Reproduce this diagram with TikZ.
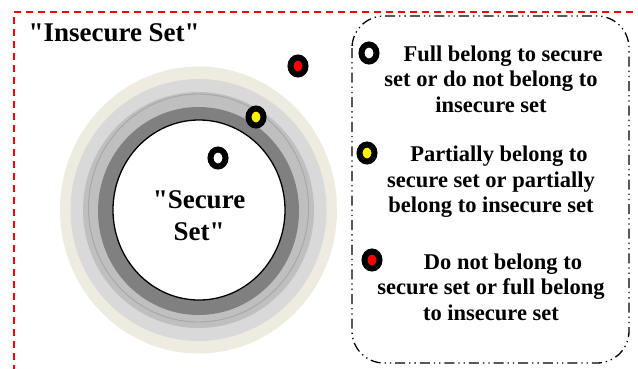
\documentclass[tikz,border=0pt]{standalone}
\usepackage{fontspec}
\setmainfont{Liberation Serif}
\usetikzlibrary{shapes.geometric}
\definecolor{beige}{HTML}{EEECE1}
\definecolor{lgray}{HTML}{D9D9D9}
\definecolor{mgray}{HTML}{BFBFBF}
\definecolor{tgray}{HTML}{A6A6A6}
\definecolor{dgray}{HTML}{808080}
\tikzset{
  dot/.style={ellipse, draw=black, line width=6pt, minimum width=15pt, minimum height=17pt, inner sep=0pt},
  legtext/.style={align=center, font=\fontsize{22.5}{25.5}\selectfont\bfseries},
  bigtext/.style={align=center, font=\fontsize{27}{32}\selectfont\bfseries},
}
\begin{document}
\begin{tikzpicture}[x=1pt,y=-1pt]
\useasboundingbox[fill=white] (0,0) rectangle (638,368);
% outer insecure region
\draw[red, line width=1.3pt, dash pattern=on 7pt off 5pt] (645,12) -- (14,12) -- (14,375);
\node[bigtext, anchor=west] (title) at (25,33) {\textquotedbl Insecure Set\textquotedbl};
% rings
\fill[beige] (198.5,210) ellipse [x radius=138.5, y radius=143.5];
\fill[lgray] (198.5,210) ellipse [x radius=128, y radius=131];
\fill[mgray] (198.5,210) ellipse [x radius=115.5, y radius=118];
\draw[tgray, line width=0.9pt] (198.5,208) ellipse [x radius=110, y radius=114];
\fill[dgray] (198.5,211) ellipse [x radius=100.5, y radius=104];
\draw[black, fill=white, line width=1.3pt] (199,210) ellipse [x radius=86, y radius=90];
\node[bigtext] (secure) at (199,216) {\textquotedbl Secure\\ Set\textquotedbl};
% points
\node[dot, fill=white] (d1) at (218,158) {};
\node[dot, fill=yellow] (d2) at (256,117) {};
\node[dot, fill=red] (d3) at (298,66) {};
% legend
\draw[black, line width=1.3pt, rounded corners=32pt,
  dash pattern=on 10pt off 4pt on 1.3pt off 4pt on 1.3pt off 4pt]
  (352,16) rectangle (629,363);
\node[dot, fill=white] (l1) at (369,53) {};
\node[dot, fill=yellow] (l2) at (367,153) {};
\node[dot, fill=red] (l3) at (372,260) {};
\node[legtext] (t1) at (491,79) {\hspace*{24pt}Full belong to secure\\ set or do not belong to\\ insecure set};
\node[legtext] (t2) at (491,182) {\hspace*{16pt}Partially belong to\\ secure set or partially\\ belong to insecure set};
\node[legtext] (t3) at (491,287) {\hspace*{24pt}Do not belong to\\ secure set or full belong\\ to insecure set};
\end{tikzpicture}
\end{document}
